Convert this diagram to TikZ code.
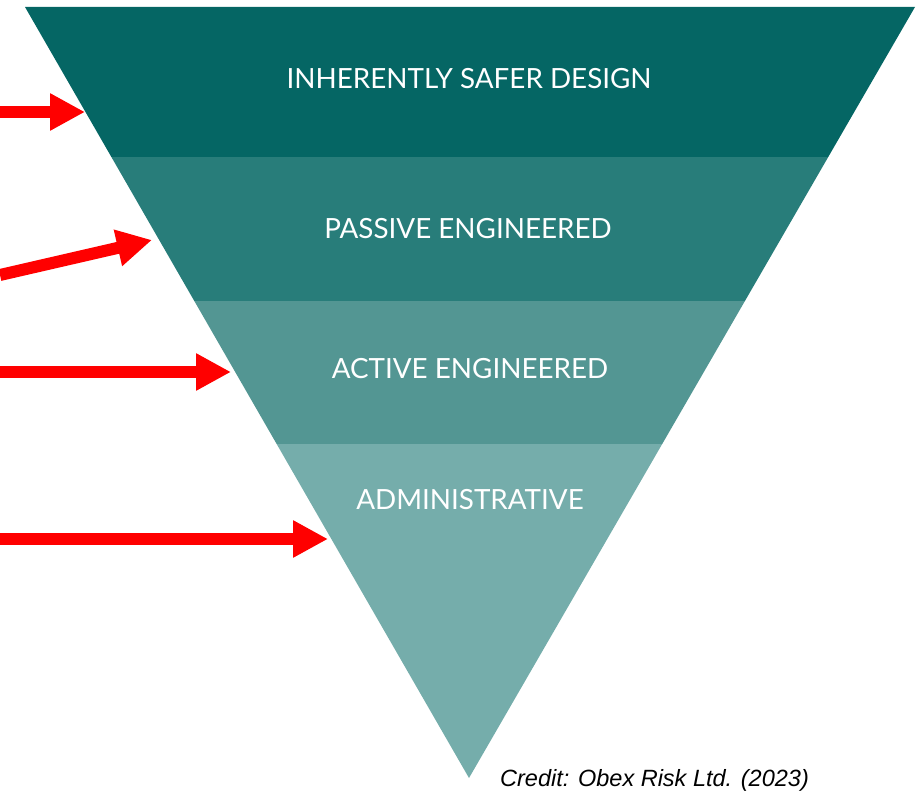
\documentclass[tikz,border=0pt]{standalone}
\usepackage{fontspec}
\setmainfont{Lato}
\newfontfamily\creditfont{Liberation Sans}
\usetikzlibrary{arrows.meta,calc}
\definecolor{bandA}{HTML}{056664}
\definecolor{bandB}{HTML}{287D7A}
\definecolor{bandC}{HTML}{539693}
\definecolor{bandD}{HTML}{75ADAB}
\definecolor{arrowred}{HTML}{FF0000}
\begin{document}
\begin{tikzpicture}[x=1pt,y=-1pt,
  tiertext/.style={text=white, font=\fontsize{27.8}{32}\selectfont, inner sep=0pt, anchor=base},
  pointer/.style={draw=arrowred, line width=12pt, -{Triangle[length=35pt,width=35pt]}}]
\useasboundingbox (0,0) rectangle (921,791);
\clip (0,0) rectangle (921,791);
% inverted triangle
\coordinate (tl) at (25,7);
\coordinate (tr) at (915,7);
\coordinate (apex) at (469,778);
\begin{scope}
  \clip (tl) -- (tr) -- (apex) -- cycle;
  \fill[bandA] (0,0) rectangle (921,157);
  \fill[bandB] (0,157) rectangle (921,301);
  \fill[bandC] (0,301) rectangle (921,444);
  \fill[bandD] (0,444) rectangle (921,791);
\end{scope}
% tier labels
\node[tiertext] (t1) at (469,89) {INHERENTLY SAFER DESIGN};
\node[tiertext] (t2) at (468,239) {PASSIVE ENGINEERED};
\node[tiertext] (t3) at (470,379) {ACTIVE ENGINEERED};
\node[tiertext] (t4) at (470,509) {ADMINISTRATIVE};
% red pointers
\coordinate (p1s) at (0,112);  \coordinate (p1e) at (85,112);
\coordinate (p2s) at (0,275);  \coordinate (p2e) at (152,240);
\coordinate (p3s) at (0,372);  \coordinate (p3e) at (231,372);
\coordinate (p4s) at (0,539);  \coordinate (p4e) at (328,539);
\draw[pointer] (p1s) -- (p1e);
\draw[pointer] (p2s) -- (p2e);
\draw[pointer] (p3s) -- (p3e);
\draw[pointer] (p4s) -- (p4e);
% credit line
\node[font=\creditfont\itshape\fontsize{23.5}{28}\selectfont, anchor=base west, inner sep=0pt] (credit) at (500,786) {Credit: Obex Risk Ltd. (2023)};
\end{tikzpicture}
\end{document}
